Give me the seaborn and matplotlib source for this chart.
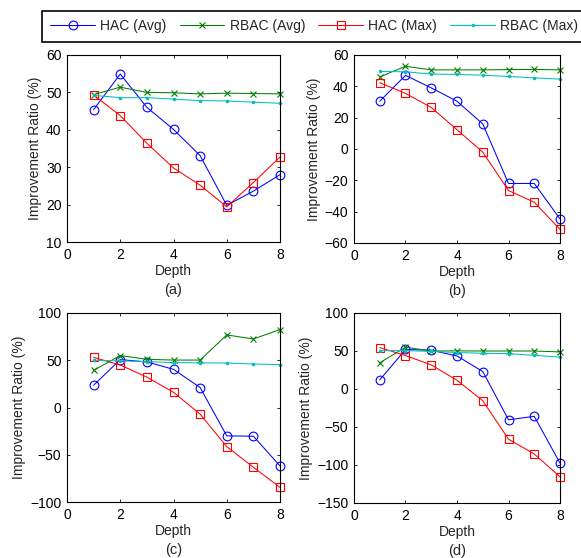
import numpy as np
import pandas as pd
import seaborn as sns
import matplotlib
matplotlib.use('Agg')
import matplotlib.pyplot as plt

# data
depth = [1, 2, 3, 4, 5, 6, 7, 8]
series_names = ['HAC (Avg)', 'RBAC (Avg)', 'HAC (Max)', 'RBAC (Max)']
panel_labels = ['(a)', '(b)', '(c)', '(d)']

a_hac_avg = [45.4, 54.9, 46.0, 40.1, 33.1, 19.8, 23.6, 28.0]
a_rbac_avg = [49.4, 51.4, 50.0, 49.9, 49.6, 49.8, 49.7, 49.6]
a_hac_max = [49.3, 43.8, 36.4, 29.8, 25.2, 19.4, 25.9, 32.7]
a_rbac_max = [49.2, 48.6, 48.6, 48.2, 47.8, 47.7, 47.4, 47.1]

b_hac_avg = [30.5, 47.0, 39.0, 30.5, 16.0, -22.0, -22.0, -44.6]
b_rbac_avg = [46.0, 52.8, 50.5, 50.5, 50.5, 50.7, 50.8, 50.5]
b_hac_max = [42.3, 35.5, 26.5, 12.3, -2.0, -26.5, -34.0, -51.3]
b_rbac_max = [49.5, 49.3, 47.8, 47.6, 47.1, 46.3, 45.4, 44.6]

c_hac_avg = [23.6, 50.7, 48.2, 40.4, 21.1, -30.0, -30.4, -61.8]
c_rbac_avg = [39.3, 55.0, 51.0, 50.2, 50.2, 76.8, 72.5, 82.5]
c_hac_max = [53.0, 45.0, 32.1, 16.1, -7.1, -41.4, -63.2, -84.5]
c_rbac_max = [50.0, 49.3, 48.6, 47.5, 47.3, 47.1, 46.0, 45.4]

d_hac_avg = [12.0, 52.0, 51.0, 43.5, 23.0, -40.5, -36.0, -97.5]
d_rbac_avg = [34.5, 55.0, 50.0, 50.2, 50.0, 50.0, 50.0, 48.8]
d_hac_max = [54.5, 44.0, 31.7, 11.5, -15.5, -66.0, -85.5, -115.5]
d_rbac_max = [50.5, 50.5, 49.5, 48.0, 47.0, 46.5, 44.3, 42.0]

panels = [
    [a_hac_avg, a_rbac_avg, a_hac_max, a_rbac_max],
    [b_hac_avg, b_rbac_avg, b_hac_max, b_rbac_max],
    [c_hac_avg, c_rbac_avg, c_hac_max, c_rbac_max],
    [d_hac_avg, d_rbac_avg, d_hac_max, d_rbac_max],
]
ylims = [(10, 60), (-60, 60), (-100, 100), (-150, 100)]
ysteps = [10, 20, 50, 50]

# matlab-ish styles
colors = ['#0000ff', '#008000', '#ff0000', '#00bfbf']
markers = ['o', 'x', 's', '.']
msizes = [6.3, 4.5, 5.2, 3.5]
hollow = [True, False, True, False]

sns.set_style('ticks')
plt.rcParams['font.family'] = ['Liberation Sans', 'DejaVu Sans']
plt.rcParams['font.size'] = 10
plt.rcParams['xtick.direction'] = 'in'
plt.rcParams['ytick.direction'] = 'in'

fig = plt.figure(figsize=(5.81, 5.58), dpi=100)
W, H = 581, 558
boxes = [(67, 280, 55, 242), (354, 560, 55, 243),
         (67, 280, 313, 502), (354, 560, 313, 503)]

axes = []
leg_handles = []
for i, (x0, x1, yt, yb) in enumerate(boxes):
    ax = fig.add_axes([x0 / W, 1 - yb / H, (x1 - x0) / W, (yb - yt) / H])
    axes.append(ax)
    for k in range(4):
        sns.lineplot(x=depth, y=panels[i][k], ax=ax, color=colors[k],
                     marker=markers[k], ms=msizes[k], lw=0.75, mew=0.8,
                     errorbar=None, legend=False,
                     clip_on=False)
        ln = ax.lines[-1]
        ln.set_color(colors[k])
        ln.set_markeredgecolor(colors[k])
        ln.set_markerfacecolor('none' if hollow[k] else colors[k])
        if i == 0:
            leg_handles.append(ln)
    ax.set_xlim(0, 8)
    ax.set_ylim(*ylims[i])
    ax.set_xticks([0, 2, 4, 6, 8])
    ax.set_yticks(np.arange(ylims[i][0], ylims[i][1] + 1, ysteps[i]))
    ax.tick_params(which='both', top=True, right=True, length=2.5, width=0.6,
                   pad=4, labelsize=10, colors='black')
    for s in ax.spines.values():
        s.set_linewidth(0.8)
        s.set_color('black')
    ax.set_xlabel('Depth', fontsize=10, labelpad=2)
    ax.set_ylabel('Improvement Ratio (%)', fontsize=10, labelpad=3)
    ax.annotate(panel_labels[i], xy=(0.5, 0), xycoords='axes fraction',
                xytext=(0, -34.5), textcoords='offset points',
                ha='center', va='center', fontsize=10.5)

leg = fig.legend(leg_handles, series_names, loc='upper left', ncol=4,
                 bbox_to_anchor=(42 / W, 1 - 11 / H), borderaxespad=0,
                 handlelength=3.2, handletextpad=0.4, columnspacing=0.95,
                 borderpad=0.6, fancybox=False, framealpha=1, edgecolor='black',
                 fontsize=10)
leg.get_frame().set_linewidth(1.2)

plt.savefig('out.png', dpi=100)
